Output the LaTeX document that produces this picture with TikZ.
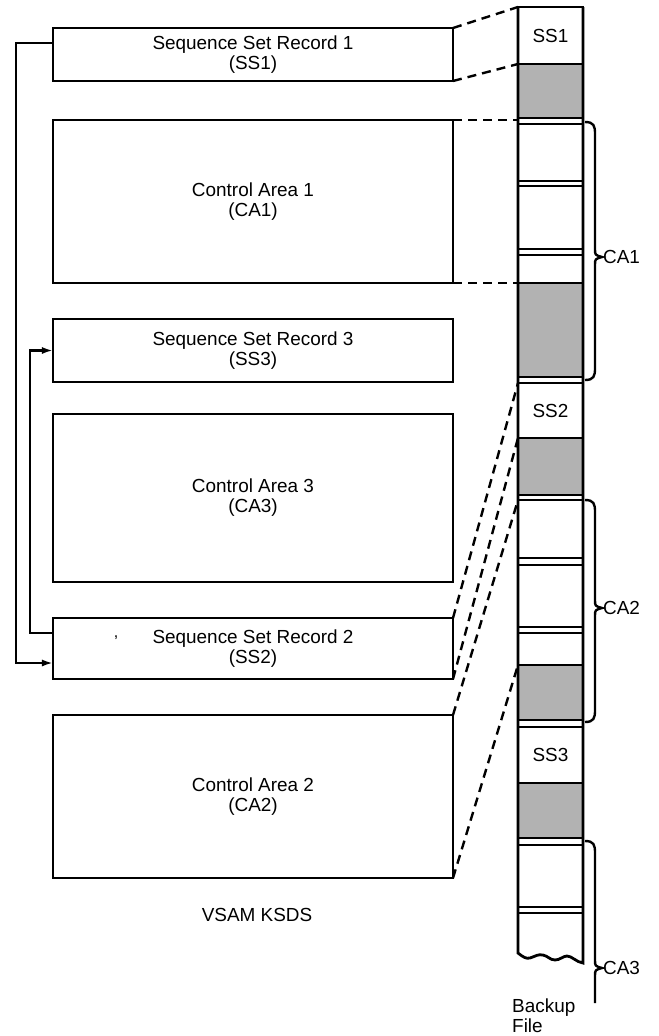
\documentclass[tikz,border=0pt]{standalone}
\usepackage{fontspec}
\setmainfont{Liberation Sans}
\usetikzlibrary{arrows.meta,calc}
\newcommand\lblfont{\fontsize{19}{20}\selectfont}
\newcommand\mybrace[4]{% x-start, top, tip, bottom
  \draw[bracepath] (#1,#2) .. controls (594,#2) and (595,#2+4) .. (595,#2+12) -- (595,#3-8)
    .. controls (595,#3-2) .. (602,#3) .. controls (595,#3+2) .. (595,#3+8) -- (595,#4-12)
    .. controls (595,#4-4) and (594,#4) .. (#1,#4);}
\begin{document}
\begin{tikzpicture}[x=1bp,y=-1bp,
  box/.style={draw,line width=2.4bp,minimum width=400bp,inner sep=0,outer sep=0,align=center,font=\lblfont},
  cell/.style={draw,line width=2.4bp,minimum width=65bp,inner sep=0,outer sep=0,font=\lblfont},
  shadecell/.style={cell,fill=gray!60},
  conn/.style={line width=2.2bp,-{Latex[length=11bp,width=7bp]}},
  dashline/.style={line width=2.4bp,dash pattern=on 9bp off 6bp},
  bracepath/.style={line width=2.4bp},
  lbl/.style={font=\lblfont,inner sep=0}]
\useasboundingbox (0,0) rectangle (659,1036);
% left boxes
\node[box,minimum height=53bp] (ss1) at (253,54.5) {Sequence Set Record 1\\(SS1)};
\node[box,minimum height=163bp] (ca1) at (253,201.5) {Control Area 1\\(CA1)};
\node[box,minimum height=63bp] (ss3) at (253,350.5) {Sequence Set Record 3\\(SS3)};
\node[box,minimum height=168bp] (ca3) at (253,498) {Control Area 3\\(CA3)};
\node[box,minimum height=61bp] (ss2) at (253,648.5) {Sequence Set Record 2\\(SS2)};
\node[box,minimum height=163bp] (ca2) at (253,796.5) {Control Area 2\\(CA2)};
\node[font=\fontsize{16}{16}\selectfont,inner sep=0] (comma) at (116,638) {,};
\node[lbl] (vsam) at (257,915) {VSAM KSDS};
% backup file column
\node[cell,minimum height=57bp] (s1) at (550.5,35.5) {SS1};
\node[shadecell,minimum height=54bp] (g1) at (550.5,91) {};
\node[cell,minimum height=57bp] (w1) at (550.5,152.5) {};
\node[cell,minimum height=63bp] (w2) at (550.5,217.5) {};
\node[cell,minimum height=28bp] (w3) at (550.5,269) {};
\node[shadecell,minimum height=94bp] (g2) at (550.5,330) {};
\node[cell,minimum height=55bp] (s2) at (550.5,410.5) {SS2};
\node[shadecell,minimum height=57bp] (g3) at (550.5,466.5) {};
\node[cell,minimum height=58bp] (w4) at (550.5,529) {};
\node[cell,minimum height=62bp] (w5) at (550.5,596) {};
\node[cell,minimum height=32bp] (w6) at (550.5,649) {};
\node[shadecell,minimum height=55bp] (g4) at (550.5,692.5) {};
\node[cell,minimum height=56bp] (s3) at (550.5,755) {SS3};
\node[shadecell,minimum height=55bp] (g5) at (550.5,810.5) {};
\node[cell,minimum height=62bp] (w7) at (550.5,876) {};
\draw[line width=2.4bp] (518,913) -- (583,913);
% column walls with torn bottom
\draw[line width=2.8bp] (518,7) -- (518,953)
  .. controls (523,957) and (526,959) .. (530,958)
  .. controls (536,956) and (538,954) .. (543,955)
  .. controls (548,956) and (550,960) .. (555,960)
  .. controls (560,960) and (563,956) .. (567,956)
  .. controls (572,956) and (576,962) .. (583,963) -- (583,7);
% dashed correspondences
\draw[dashline] (ss1.north east) -- (s1.north west);
\draw[dashline] (ss1.south east) -- (s1.south west);
\draw[dashline] (ca1.north east) -- (ca1.north east -| w1.west);
\draw[dashline] (ca1.south east) -- (ca1.south east -| g2.west);
\draw[dashline] (ss2.north east) -- (s2.north west);
\draw[dashline] (ss2.south east) -- (s2.south west);
\draw[dashline] (ca2.north east) -- (w4.north west);
\draw[dashline] (ca2.south east) -- (g4.north west);
% chain arrows
\draw[conn] ([yshift=11.5bp]ss1.west) -- ++(-37,0) |- ([yshift=-14.5bp]ss2.west);
\draw[conn] ([yshift=15.5bp]ss2.west) -- ++(-23,0) |- (ss3.west);
% braces and labels
\mybrace{585}{122}{257}{380}
\mybrace{585}{500}{608}{722}
\draw[bracepath] (585,841) .. controls (594,841) and (595,845) .. (595,853) -- (595,960)
  .. controls (595,966) .. (602,968) .. controls (595,970) .. (595,976) -- (595,1003);
\node[lbl,anchor=west] (lca1) at (603,257) {CA1};
\node[lbl,anchor=west] (lca2) at (603,608) {CA2};
\node[lbl,anchor=west] (lca3) at (603,968) {CA3};
\node[lbl,anchor=west,align=left] (backup) at (512,1016) {Backup\\File};
\end{tikzpicture}
\end{document}
